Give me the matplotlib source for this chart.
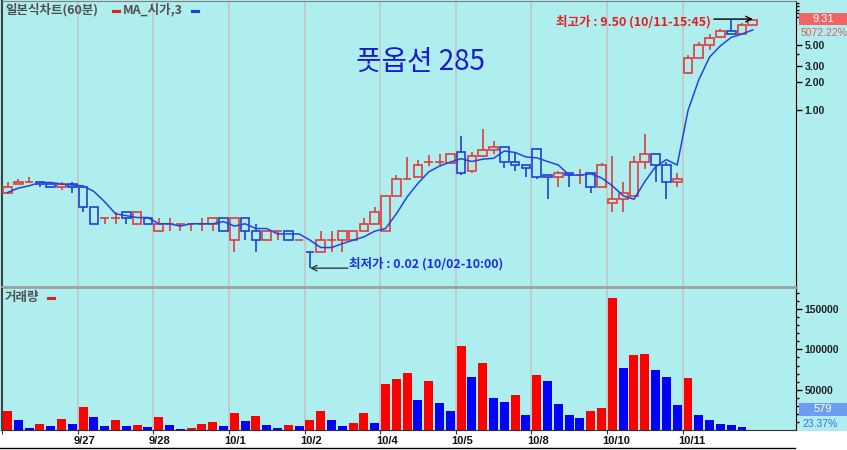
import numpy as np
import pandas as pd
import matplotlib.pyplot as plt
from matplotlib.patches import Rectangle
from matplotlib.lines import Line2D
from matplotlib.ticker import FixedLocator, NullFormatter
from matplotlib.transforms import blended_transform_factory

plt.rcParams['font.family'] = ['Noto Sans CJK KR', 'DejaVu Sans']

# ------------------------------
# data (60-min bars, 7 per day)
# ------------------------------
dates = ['09/26', '09/27', '09/28', '10/01', '10/02', '10/04', '10/05', '10/08', '10/10', '10/11']
times = ['10:00', '11:00', '12:00', '13:00', '14:00', '15:00', '15:45']

opens = [0.13, 0.16, 0.17, 0.17, 0.16, 0.15, 0.16,
         0.15, 0.09, 0.07, 0.07, 0.08, 0.06, 0.07,
         0.05, 0.06, 0.06, 0.06, 0.06, 0.06, 0.07,
         0.04, 0.07, 0.05, 0.04, 0.05, 0.05, 0.04,
         0.03, 0.03, 0.04, 0.04, 0.04, 0.05, 0.06,
         0.05, 0.12, 0.18, 0.19, 0.28, 0.28, 0.27,
         0.35, 0.22, 0.32, 0.37, 0.40, 0.28, 0.26,
         0.38, 0.20, 0.19, 0.21, 0.20, 0.21, 0.15,
         0.10, 0.11, 0.12, 0.28, 0.34, 0.26, 0.17,
         2.53, 3.65, 4.95, 6.10, 7.05, 6.55, 8.20]
highs = [0.17, 0.18, 0.19, 0.17, 0.16, 0.17, 0.17,
         0.15, 0.09, 0.07, 0.08, 0.08, 0.08, 0.07,
         0.07, 0.07, 0.06, 0.06, 0.07, 0.07, 0.07,
         0.07, 0.07, 0.06, 0.05, 0.05, 0.05, 0.04,
         0.03, 0.05, 0.05, 0.05, 0.05, 0.07, 0.09,
         0.12, 0.20, 0.31, 0.29, 0.33, 0.34, 0.34,
         0.53, 0.35, 0.63, 0.46, 0.40, 0.35, 0.26,
         0.39, 0.20, 0.22, 0.21, 0.23, 0.21, 0.27,
         0.32, 0.17, 0.32, 0.55, 0.34, 0.28, 0.21,
         3.95, 5.40, 6.50, 7.50, 9.40, 8.70, 9.50]
lows = [0.13, 0.16, 0.17, 0.15, 0.15, 0.14, 0.13,
        0.08, 0.06, 0.06, 0.06, 0.06, 0.06, 0.06,
        0.05, 0.05, 0.05, 0.05, 0.05, 0.05, 0.05,
        0.03, 0.04, 0.03, 0.04, 0.04, 0.04, 0.04,
        0.02, 0.03, 0.03, 0.03, 0.04, 0.05, 0.06,
        0.05, 0.12, 0.18, 0.19, 0.25, 0.26, 0.27,
        0.20, 0.21, 0.31, 0.34, 0.24, 0.22, 0.19,
        0.18, 0.11, 0.15, 0.15, 0.16, 0.13, 0.15,
        0.08, 0.08, 0.12, 0.23, 0.17, 0.11, 0.15,
        2.47, 3.60, 4.40, 6.00, 6.50, 6.50, 8.15]
closes = [0.15, 0.17, 0.17, 0.16, 0.15, 0.16, 0.15,
          0.09, 0.06, 0.07, 0.07, 0.07, 0.08, 0.06,
          0.06, 0.06, 0.06, 0.06, 0.06, 0.07, 0.05,
          0.07, 0.05, 0.04, 0.05, 0.05, 0.04, 0.04,
          0.03, 0.04, 0.04, 0.05, 0.05, 0.06, 0.08,
          0.12, 0.18, 0.18, 0.26, 0.28, 0.28, 0.34,
          0.21, 0.32, 0.37, 0.40, 0.28, 0.26, 0.24,
          0.19, 0.19, 0.21, 0.20, 0.20, 0.15, 0.26,
          0.11, 0.13, 0.28, 0.34, 0.26, 0.17, 0.18,
          3.65, 4.95, 6.00, 7.15, 6.55, 8.20, 9.31]
volume = [24000, 12000, 2900, 7500, 5000, 13700, 7500,
          29000, 15700, 5000, 12000, 5000, 6200, 3700,
          15700, 6200, 1600, 1900, 7500, 9500, 5000,
          20700, 10800, 17000, 6200, 2900, 6200, 5000,
          12000, 23200, 12000, 5000, 8700, 21500, 8700,
          56700, 62900, 71100, 37600, 60400, 33500, 24000,
          104600, 66200, 83100, 39700, 34700, 43400, 18200,
          68700, 61200, 32300, 19000, 14500, 24000, 27700,
          163800, 76900, 93500, 94000, 74400, 66200, 31000,
          64900, 19000, 12000, 7000, 5800, 3300, 579]
last_change = '5072.22%'
vol_change = '23.37%'

# ------------------------------
# layout
# ------------------------------
W, H = 847, 450
BG = '#AFEEEE'
fig = plt.figure(figsize=(W / 100, H / 100), dpi=100, facecolor=BG)


def fx(x):
    return x / W


def fy(y):
    return 1 - y / H


ax = fig.add_axes([fx(2), fy(287), fx(796) - fx(2), fy(1) - fy(287)], facecolor=BG)
ax2 = fig.add_axes([fx(2), fy(430), fx(796) - fx(2), fy(289) - fy(430)], facecolor=BG)

n = len(opens)
x = np.arange(n)
per_day = len(times)
day_edges = [per_day * d - 0.5 for d in range(len(dates))]

RED_C, BLUE_C = '#E03C3C', '#1E40DC'

# candles (hollow)
for i in x:
    o, h, l, c = opens[i], highs[i], lows[i], closes[i]
    if c > o:
        col = RED_C
    elif c < o:
        col = BLUE_C
    else:
        col = RED_C if i == 0 or c >= closes[i - 1] else BLUE_C
    lo_b, hi_b = min(o, c), max(o, c)
    if hi_b > lo_b:
        ax.add_patch(Rectangle((i - 0.4, lo_b), 0.8, hi_b - lo_b, fill=False,
                               edgecolor=col, lw=1.2, zorder=3))
    else:
        ax.hlines(o, i - 0.4, i + 0.4, color=col, lw=1.2, zorder=3)
    if h > hi_b:
        ax.vlines(i, hi_b, h, color=col, lw=1.2, zorder=3)
    if l < lo_b:
        ax.vlines(i, l, lo_b, color=col, lw=1.2, zorder=3)

ma = pd.Series(opens).rolling(3, min_periods=1).mean()
ax.plot(x, ma, color='#2444E0', lw=1.1, zorder=4)

ax.set_yscale('log')
ax.set_ylim(0.01255, 14.86)
ax.set_xlim(-0.51, 73.0)

# volume, coloured by change vs previous bar
vcol = ['#FF0000' if i == 0 or volume[i] >= volume[i - 1] else '#0000FF' for i in x]
ax2.bar(x, volume, width=0.83, color=vcol, zorder=3)
ax2.set_ylim(0, 174940)
ax2.set_xlim(-0.51, 73.0)

for a in (ax, ax2):
    for e in day_edges[1:]:
        a.axvline(e, color='#C4C4C4', lw=1.2, zorder=1)
    a.yaxis.tick_right()
    a.spines['right'].set_color('black')
    a.spines['left'].set_color('#404040')
    a.spines['left'].set_linewidth(1.5)
    a.tick_params(axis='y', which='major', length=4, width=1, labelsize=7.5, pad=2,
                  labelfontfamily='Liberation Sans')
    a.tick_params(axis='y', which='minor', length=2.5, width=1)

ax.spines['top'].set_color('#808080')
ax.spines['bottom'].set_color('#A0A0A0')
ax.spines['bottom'].set_linewidth(2)
ax2.spines['top'].set_visible(False)
ax2.spines['bottom'].set_color('#303030')

ax.tick_params(axis='x', bottom=False, labelbottom=False)
ax.yaxis.set_major_locator(FixedLocator([1, 2, 3, 5]))
ax.set_yticklabels(['1.00', '2.00', '3.00', '5.00'])
ax.yaxis.set_minor_locator(FixedLocator([4, 10, 11, 12, 13, 14]))
ax.yaxis.set_minor_formatter(NullFormatter())

ax2.yaxis.set_major_locator(FixedLocator([50000, 100000, 150000]))
ax2.set_yticklabels(['50000', '100000', '150000'])
ax2.yaxis.set_minor_locator(FixedLocator(list(range(10000, 175000, 10000))))
ax2.yaxis.set_minor_formatter(NullFormatter())
ax2.set_xticks(day_edges)
ax2.tick_params(axis='x', direction='out', length=3, color='#303030', labelbottom=False)

for a in (ax, ax2):
    for lbl in a.get_yticklabels():
        lbl.set_fontweight('bold')
        lbl.set_color('#202020')

# bottom strip with date labels
fig.add_artist(Rectangle((0, 0), 1, fy(431), transform=fig.transFigure,
                         facecolor='white', edgecolor='none', zorder=-1))
fig.add_artist(Line2D([0, fx(795)], [fy(448), fy(448)], transform=fig.transFigure,
                      color='black', lw=1))
tr = blended_transform_factory(ax2.transData, fig.transFigure)
for d in range(1, len(dates)):
    m, dd = dates[d].split('/')
    fig.text(0, 0, '')
    ax2.text(day_edges[d] - 0.4, fy(441), f'{int(m)}/{int(dd)}', transform=tr,
             ha='left', va='center', fontsize=8, fontweight='bold',
             family='Liberation Sans', color='#101010', clip_on=False)

# header labels
GRAY = '#505050'
fig.text(fx(5), fy(10), '일본식차트(60분)', fontsize=9, fontweight='bold', color=GRAY,
         ha='left', va='center')
fig.add_artist(Line2D([fx(113), fx(119)], [fy(11), fy(11)], transform=fig.transFigure,
                      color='#E02020', lw=2.2))
fig.text(fx(123), fy(10), 'MA_시가,3', fontsize=9, fontweight='bold', color=GRAY,
         ha='left', va='center')
fig.add_artist(Line2D([fx(192), fx(198)], [fy(11), fy(11)], transform=fig.transFigure,
                      color='#1E40DC', lw=2.2))
fig.text(fx(5), fy(297), '거래량', fontsize=9, fontweight='bold', color=GRAY,
         ha='left', va='center')
fig.add_artist(Line2D([fx(48), fx(54)], [fy(298), fy(298)], transform=fig.transFigure,
                      color='#E02020', lw=2.2))

fig.text(fx(420), fy(62), '풋옵션 285', fontsize=20, color='#1A1AD2', ha='center', va='center')

# highest / lowest markers
ih = int(np.argmax(highs))
il = int(np.argmin(lows))
ax.annotate('', xy=(ih, highs[ih]), xytext=(-39, 0), textcoords='offset pixels',
            arrowprops=dict(arrowstyle='->', color='black', lw=1, shrinkA=0, shrinkB=0))
ax.annotate(f'최고가 : {highs[ih]:.2f} ({dates[ih // per_day]}-{times[ih % per_day]})',
            xy=(ih, highs[ih]), xytext=(-42, -3), textcoords='offset pixels',
            ha='right', va='center', fontsize=9, fontweight='bold', color='#E02020')
ax.annotate('', xy=(il, lows[il]), xytext=(38, 0), textcoords='offset pixels',
            arrowprops=dict(arrowstyle='->', color='#2F4040', lw=1, shrinkA=0, shrinkB=0))
ax.annotate(f'최저가 : {lows[il]:.2f} ({dates[il // per_day]}-{times[il % per_day]})',
            xy=(il, lows[il]), xytext=(39, 4), textcoords='offset pixels',
            ha='left', va='center', fontsize=9, fontweight='bold', color='#1E2EE0')

# right side value boxes
fig.add_artist(Rectangle((fx(799), fy(25)), fx(48), 12 / H, transform=fig.transFigure,
                         facecolor='#F06464', edgecolor='none'))
fig.text(fx(823), fy(19), f'{closes[-1]:.2f}', fontsize=8, color='white',
         ha='center', va='center', family='Liberation Sans')
fig.text(fx(801), fy(33), last_change, fontsize=7.5, color='#E05A5A',
         ha='left', va='center', family='Liberation Sans')
fig.add_artist(Rectangle((fx(799), fy(416)), fx(48), 13 / H, transform=fig.transFigure,
                         facecolor='#6E9CF0', edgecolor='none'))
fig.text(fx(823), fy(409.5), f'{volume[-1]}', fontsize=8, color='white',
         ha='center', va='center', family='Liberation Sans')
fig.text(fx(802), fy(424), vol_change, fontsize=7.5, color='#3C6EE6',
         ha='left', va='center', family='Liberation Sans')

fig.savefig('out.png', dpi=100, facecolor=BG)
